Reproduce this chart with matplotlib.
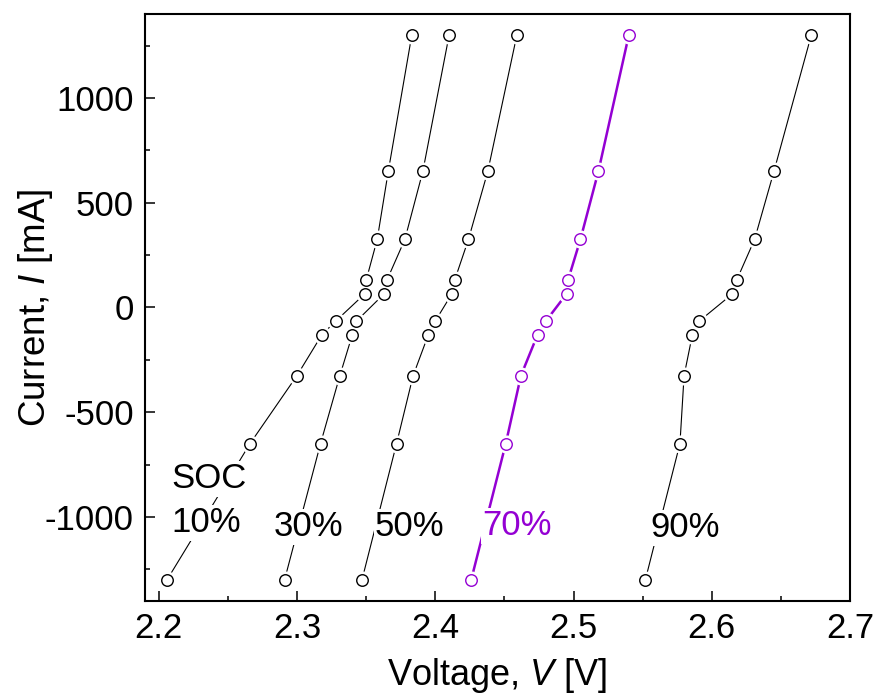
import matplotlib
matplotlib.use('Agg')
import matplotlib.pyplot as plt

plt.rcParams['font.family'] = ['Liberation Sans', 'DejaVu Sans']
plt.rcParams['mathtext.fontset'] = 'custom'
plt.rcParams['mathtext.it'] = 'Liberation Sans:italic'
plt.rcParams['mathtext.rm'] = 'Liberation Sans'
plt.rcParams['axes.unicode_minus'] = False

# current steps [mA]
current = [-1300, -650, -325, -130, -65, 65, 130, 325, 650, 1300]

# voltage [V] for each state of charge
v_soc10 = [2.206, 2.266, 2.300, 2.318, 2.328, 2.349, 2.350, 2.358, 2.366, 2.383]
v_soc30 = [2.291, 2.317, 2.331, 2.340, 2.343, 2.363, 2.365, 2.378, 2.391, 2.410]
v_soc50 = [2.347, 2.372, 2.384, 2.395, 2.400, 2.412, 2.414, 2.424, 2.438, 2.459]
v_soc70 = [2.426, 2.451, 2.462, 2.474, 2.480, 2.495, 2.496, 2.505, 2.518, 2.540]
v_soc90 = [2.552, 2.577, 2.580, 2.586, 2.591, 2.615, 2.618, 2.631, 2.645, 2.672]

series = [v_soc10, v_soc30, v_soc50, v_soc70, v_soc90]
labels = ['10%', '30%', '50%', '70%', '90%']
purple = '#9400d3'
colors = ['black', 'black', 'black', purple, 'black']
widths = [0.8, 0.8, 0.8, 1.8, 0.8]
label_pos = [(2.234, -1029), (2.308, -1048), (2.3815, -1048), (2.459, -1043), (2.581, -1052)]

fig = plt.figure(figsize=(8.75, 6.96), dpi=100)
ax = fig.add_axes([0.1657, 0.137, 0.8057, 0.8425])

for v, c, lw in zip(series, colors, widths):
    ax.plot(v, current, color=c, linewidth=lw, zorder=2)
    ax.plot(v, current, linestyle='none', marker='o', markersize=12,
            markerfacecolor='white', markeredgecolor='white', zorder=3)
for v, c in zip(series, colors):
    ax.plot(v, current, linestyle='none', marker='o', markersize=8.3,
            markerfacecolor='white', markeredgecolor=c, markeredgewidth=1.0, zorder=4)

for lab, c, (lx, ly) in zip(labels, colors, label_pos):
    ax.text(lx, ly, lab, fontsize=25, color=c, ha='center', va='center', zorder=5,
            bbox=dict(facecolor='white', edgecolor='none', pad=1))
ax.text(2.2366, -818, 'SOC', fontsize=25, color='black', ha='center', va='center', zorder=5,
        bbox=dict(facecolor='white', edgecolor='none', pad=1))

ax.set_xlim(2.19, 2.7)
ax.set_ylim(-1400, 1400)
ax.set_xticks([2.2, 2.3, 2.4, 2.5, 2.6, 2.7])
ax.set_xticklabels(['2.2', '2.3', '2.4', '2.5', '2.6', '2.7'])
ax.set_xticks([2.25, 2.35, 2.45, 2.55, 2.65], minor=True)
ax.set_yticks([-1000, -500, 0, 500, 1000])
ax.set_yticks([-1250, -750, -250, 250, 750, 1250], minor=True)

ax.tick_params(which='both', direction='in', top=False, right=False, width=1.1, labelsize=25)
ax.tick_params(which='major', length=7.2, pad=8)
ax.tick_params(which='minor', length=3.6)
for s in ax.spines.values():
    s.set_linewidth(1.5)

ax.set_xlabel('Voltage, $\\mathit{V}$ [V]', fontsize=26, labelpad=8)
ax.set_ylabel('Current, $\\mathit{I}$ [mA]', fontsize=26.5, labelpad=-7)

fig.savefig('out.png', dpi=100)
